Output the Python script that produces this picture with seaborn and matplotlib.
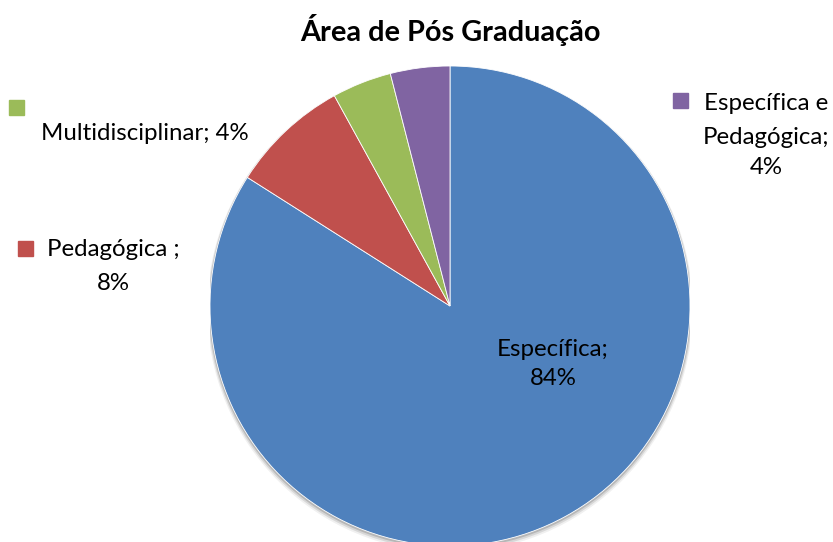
import matplotlib
matplotlib.use("Agg")
import matplotlib.pyplot as plt
import seaborn as sns

categories = ["Específica", "Pedagógica ", "Multidisciplinar", "Específica e Pedagógica"]
values = [84, 8, 4, 4]
colors = ["#4F81BD", "#C0504D", "#9BBB59", "#8064A2"]
title = "Área de Pós Graduação"

sns.set_theme(style="white")
plt.rcParams['font.family'] = ['Lato', 'DejaVu Sans']

W, H = 833, 542
fig = plt.figure(figsize=(W / 100, H / 100), dpi=100)
fig.patch.set_facecolor("white")

# pie axes: circle center (450, 306) px, radius 240 px
cx, cy, r = 450, 306, 240
ax = fig.add_axes([(cx - r) / W, (H - cy - r) / H, 2 * r / W, 2 * r / H])
ax.axis("off")

# subtle shadow
for i, a in enumerate([0.06, 0.1, 0.15]):
    sh = plt.Circle((0.0, -0.014 + 0.004 * i), 1.0 + 0.012 - 0.004 * i, color="black", alpha=a, lw=0, zorder=0)
    ax.add_patch(sh)

wedges, _ = ax.pie(values, colors=colors, startangle=90, counterclock=False, radius=1.0,
                   wedgeprops=dict(linewidth=0.6, edgecolor="white"))
for w in wedges:
    w.set_zorder(2)
ax.set_xlim(-1, 1)
ax.set_ylim(-1, 1)
ax.set_aspect("equal")
ax.axis("off")

def px(x, y):
    return x / W, 1 - y / H

fs = 17.3
fig.text(*px(450, 30), title, ha="center", va="center", fontsize=20.8, fontweight="bold", color="#000000")

# Específica label inside
fig.text(*px(553, 364), f"{categories[0].strip()};\n{values[0]}%", ha="center", va="center",
         fontsize=fs, linespacing=1.45, color="black")

# Multidisciplinar
fig.patches.append(plt.Rectangle(px(9, 115), 15 / W, 15 / H, transform=fig.transFigure,
                                 color=colors[2], figure=fig))
fig.text(*px(145, 133), f"{categories[2]}; {values[2]}%", ha="center", va="center", fontsize=fs, color="black")

# Pedagógica
fig.patches.append(plt.Rectangle(px(18, 256), 15 / W, 15 / H, transform=fig.transFigure,
                                 color=colors[1], figure=fig))
fig.text(*px(47, 250), f"{categories[1]};", ha="left", va="center", fontsize=fs, color="black")
fig.text(*px(113, 283), f"{values[1]}%", ha="center", va="center", fontsize=fs, color="black")

# Específica e Pedagógica
fig.patches.append(plt.Rectangle(px(673, 108), 15 / W, 15 / H, transform=fig.transFigure,
                                 color=colors[3], figure=fig))
fig.text(*px(704, 103), "Específica e", ha="left", va="center", fontsize=fs, color="black")
fig.text(*px(766, 137), "Pedagógica;", ha="center", va="center", fontsize=fs, color="black")
fig.text(*px(766, 168), f"{values[3]}%", ha="center", va="center", fontsize=fs, color="black")

fig.savefig("out.png", dpi=100, facecolor="white")
